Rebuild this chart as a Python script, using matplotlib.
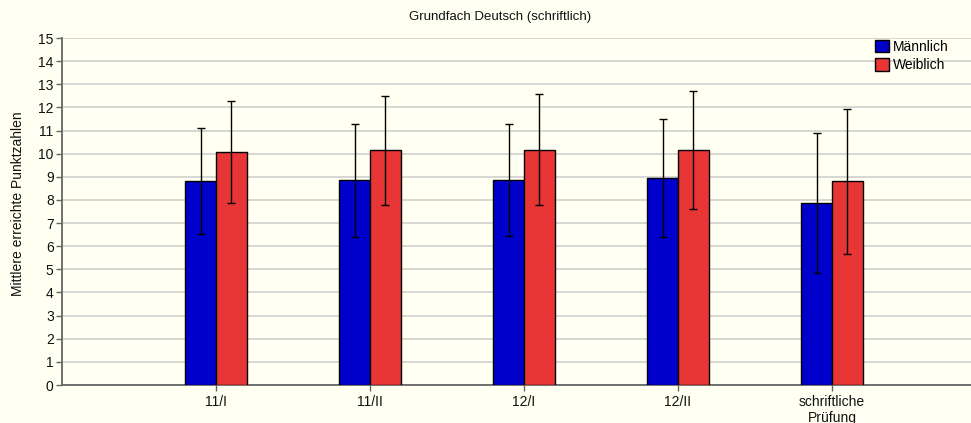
import matplotlib
matplotlib.use("Agg")
import matplotlib.pyplot as plt
import numpy as np

plt.rcParams['font.family'] = ['Liberation Sans', 'DejaVu Sans']

categories = ["11/I", "11/II", "12/I", "12/II", "schriftliche\nPrüfung"]
maennlich_mean = [8.81, 8.85, 8.86, 8.95, 7.87]
maennlich_sd = [2.30, 2.44, 2.41, 2.55, 3.04]
weiblich_mean = [10.06, 10.15, 10.17, 10.17, 8.81]
weiblich_sd = [2.21, 2.35, 2.40, 2.55, 3.13]
y_ticks = list(range(0, 16))

bg = "#FFFFF2"
blue = "#0000CC"
red = "#E83535"
text_color = "#111111"

fig = plt.figure(figsize=(9.71, 4.23), dpi=100, facecolor=bg)
ax = fig.add_axes([62 / 971, 1 - 385 / 423, 1 - 62 / 971, (385 - 38) / 423])
ax.set_facecolor(bg)

x = np.arange(len(categories))
w = 0.2
err_kw = dict(ecolor="black", elinewidth=1.0, capsize=3, capthick=1.0)
ax.bar(x - w / 2, maennlich_mean, w, color=blue, edgecolor="black", linewidth=1.0,
       yerr=maennlich_sd, error_kw=err_kw, label="Männlich", zorder=3)
ax.bar(x + w / 2, weiblich_mean, w, color=red, edgecolor="black", linewidth=1.0,
       yerr=weiblich_sd, error_kw=err_kw, label="Weiblich", zorder=3)

ax.set_xlim(-1.0, 4.903)
ax.set_ylim(0, 15)
ax.set_yticks(y_ticks)
ax.set_yticklabels([str(t) for t in y_ticks], fontsize=10, color=text_color)
ax.set_xticks(x)
ax.set_xticklabels(categories, fontsize=10, color=text_color, linespacing=1.2)
ax.yaxis.grid(True, color="#CFCFCF", linewidth=1.2, zorder=0)
ax.set_axisbelow(True)

for side in ("top", "right"):
    ax.spines[side].set_visible(False)
for side in ("left", "bottom"):
    ax.spines[side].set_color("#666666")
    ax.spines[side].set_linewidth(1.3)
ax.tick_params(axis="y", length=4, width=1, color="#666666", pad=2)
ax.tick_params(axis="x", length=4, width=1, color="#666666", pad=3)

fig.text(18 / 971, 1 - 204 / 423, "Mittlere erreichte Punktzahlen", rotation=90,
         ha="center", va="center", fontsize=10, color=text_color)

fig.text(500 / 971, 1 - 17 / 423, "Grundfach Deutsch (schriftlich)", ha="center", va="center",
         fontsize=9.5, color=text_color)

leg = ax.legend(loc="upper left", bbox_to_anchor=(875 / 971, 1 - 40 / 423),
                bbox_transform=fig.transFigure, frameon=False, fontsize=10,
                handlelength=1.0, handleheight=1.0, handletextpad=0.3, labelspacing=0.3,
                borderpad=0, borderaxespad=0)

fig.savefig("out.png", dpi=100, facecolor=bg)
